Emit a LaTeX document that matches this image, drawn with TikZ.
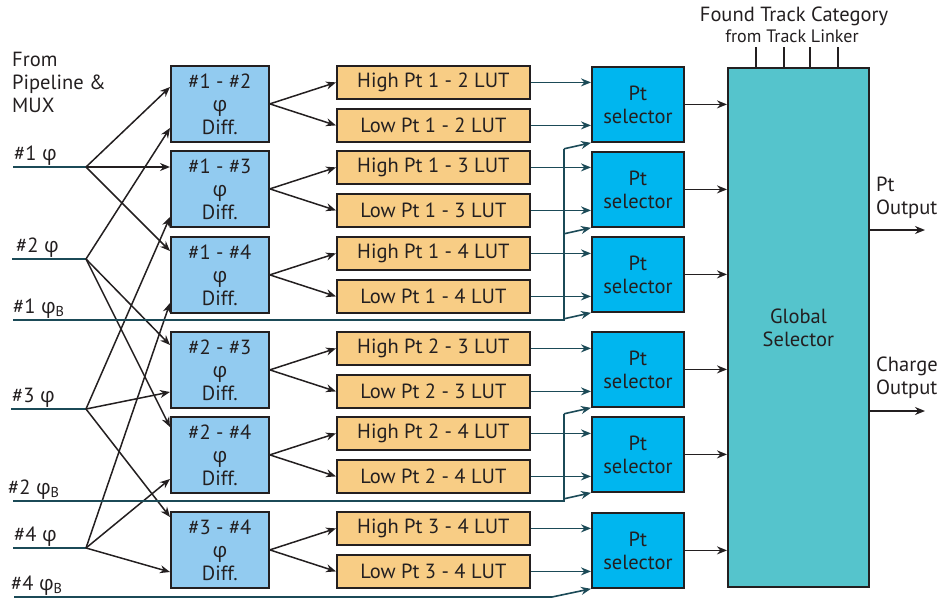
\documentclass[tikz,border=0pt]{standalone}
\usepackage{fontspec}
\setmainfont{PT Sans}
\newfontfamily\greekfont{Open Sans}
\usetikzlibrary{arrows.meta,calc,positioning}
\definecolor{ink}{HTML}{231F20}
\definecolor{wire}{HTML}{1B4A57}
\definecolor{diffbg}{HTML}{92CBF0}
\definecolor{lutbg}{HTML}{F8CD85}
\definecolor{selbg}{HTML}{00B6EF}
\definecolor{globbg}{HTML}{55C4CC}
\newcommand{\ph}{{\greekfont φ}}
\newcommand{\phb}{\ph\textsubscript{B}}

\begin{document}
\begin{tikzpicture}[
  x=1pt,y=-1pt,
  font=\fontsize{20.5}{23}\selectfont, text=ink,
  blk/.style={draw=ink,line width=1.8pt,anchor=north west,inner sep=0pt,align=center},
  diff/.style={blk,fill=diffbg,minimum width=98pt,minimum height=76pt},
  lut/.style={blk,fill=lutbg,minimum width=193pt,minimum height=33pt},
  sel/.style={blk,fill=selbg,minimum width=92pt,minimum height=75pt},
  fan/.style={-{Stealth[length=10pt,width=8pt]},draw=ink,line width=1.5pt},
  flow/.style={-{Stealth[length=10pt,width=8pt]},draw=wire,line width=1.6pt},
  inwire/.style={draw=wire,line width=1.8pt},
  inlab/.style={anchor=south west,inner sep=1pt}
]
\useasboundingbox (0,0) rectangle (943,602);

\node[anchor=north west,align=left,inner sep=0pt] (src) at (12,52) {From\\Pipeline \&\\MUX};

% phi difference units
\node[diff] (d12) at (170,65) {\#1 - \#2\\\ph\\Diff.};
\node[diff] (d13) at (170,150) {\#1 - \#3\\\ph\\Diff.};
\node[diff] (d14) at (170,236) {\#1 - \#4\\\ph\\Diff.};
\node[diff] (d23) at (170,331) {\#2 - \#3\\\ph\\Diff.};
\node[diff] (d24) at (170,416) {\#2 - \#4\\\ph\\Diff.};
\node[diff] (d34) at (170,511) {\#3 - \#4\\\ph\\Diff.};

% look-up tables
\node[lut] (h12) at (336,65) {High Pt 1 - 2 LUT};
\node[lut] (l12) at (336,108) {Low Pt 1 - 2 LUT};
\node[lut] (h13) at (336,150) {High Pt 1 - 3 LUT};
\node[lut] (l13) at (336,193) {Low Pt 1 - 3 LUT};
\node[lut] (h14) at (336,236) {High Pt 1 - 4 LUT};
\node[lut] (l14) at (336,279) {Low Pt 1 - 4 LUT};
\node[lut] (h23) at (336,331) {High Pt 2 - 3 LUT};
\node[lut] (l23) at (336,374) {Low Pt 2 - 3 LUT};
\node[lut] (h24) at (336,416) {High Pt 2 - 4 LUT};
\node[lut] (l24) at (336,459) {Low Pt 2 - 4 LUT};
\node[lut] (h34) at (336,511) {High Pt 3 - 4 LUT};
\node[lut] (l34) at (336,554) {Low Pt 3 - 4 LUT};

% Pt selectors
\node[sel] (s12) at (591,66) {Pt\\selector};
\node[sel] (s13) at (591,151) {Pt\\selector};
\node[sel] (s14) at (591,236) {Pt\\selector};
\node[sel] (s23) at (591,331) {Pt\\selector};
\node[sel] (s24) at (591,416) {Pt\\selector};
\node[sel] (s34) at (591,512) {Pt\\selector};

\node[blk,fill=globbg,minimum width=141pt,minimum height=519pt] (glob) at (727,67) {Global\\Selector};

\foreach \p in {12,13,14,23,24,34} {
  \draw[fan] (d\p.east) -- (h\p.west);
  \draw[fan] (d\p.east) -- (l\p.west);
  \draw[flow] (h\p.east) -- (h\p.east -| s\p.west);
  \draw[flow] (l\p.east) -- (l\p.east -| s\p.west);
  \draw[flow,draw=ink] (s\p.east) -- (s\p.east -| glob.west);
}

% phi inputs
\coordinate (in1) at (13,167); \coordinate (fan1) at (86,167);
\coordinate (in2) at (12,259); \coordinate (fan2) at (86,259);
\coordinate (in3) at (11,409); \coordinate (fan3) at (86,409);
\coordinate (in4) at (13,548); \coordinate (fan4) at (86,548);
\coordinate (bin1) at (13,320);
\coordinate (bin2) at (13,501);
\coordinate (bin4) at (14,597);

\node[inlab] (lab1) at (in1) {\#1 \ph};
\node[inlab] (lab2) at ([xshift=3pt]in2) {\#2 \ph};
\node[inlab] (lab3) at (in3) {\#3 \ph};
\node[inlab] (lab4) at (in4) {\#4 \ph};
\node[inlab] (blab1) at ([xshift=-1pt]bin1) {\#1 \phb};
\node[inlab] (blab2) at ([xshift=-6pt]bin2) {\#2 \phb};
\node[inlab] (blab4) at ([xshift=-4pt]bin4) {\#4 \phb};

\draw[inwire] (in1) -- (fan1);
\draw[inwire] (in2) -- (fan2);
\draw[inwire] (in3) -- (fan3);
\draw[inwire] (in4) -- (fan4);

\draw[fan] (fan1) -- ([yshift=-22pt]d12.north west);
\draw[fan] (fan1) -- ([yshift=-17pt]d13.north west);
\draw[fan] (fan1) -- ([yshift=-15pt]d14.north west);
\draw[fan] (fan2) -- ([yshift=-63pt]d12.north west);
\draw[fan] (fan2) -- ([yshift=-14pt]d23.north west);
\draw[fan] (fan2) -- ([yshift=-11pt]d24.north west);
\draw[fan] (fan3) -- ([yshift=-67pt]d13.north west);
\draw[fan] (fan3) -- ([yshift=-61pt]d23.north west);
\draw[fan] (fan3) -- ([yshift=-6pt]d34.north west);
\draw[fan] (fan4) -- ([yshift=-67pt]d14.north west);
\draw[fan] (fan4) -- ([yshift=-63pt]d24.north west);
\draw[fan] (fan4) -- ([yshift=-61pt]d34.north west);

% phi_B buses into the selectors
\draw[inwire] (bin1) -- ([xshift=-27pt]bin1 -| s14.west) -- ([shift={(-27pt,-6pt)}]s12.south west);
\foreach \s in {s12,s13,s14}
  \draw[flow] ([shift={(-27pt,-6pt)}]\s.south west) -- (\s.south west);
\draw[inwire] (bin2) -- ([xshift=-27pt]bin2 -| s24.west) -- ([shift={(-27pt,-6pt)}]s23.south west);
\foreach \s in {s23,s24}
  \draw[flow] ([shift={(-27pt,-6pt)}]\s.south west) -- (\s.south west);
\draw[flow] (bin4) -- ([xshift=-39pt]bin4 -| s34.west) -- (s34.south west);

% track category inputs
\node[anchor=base] (cat) at (794,22) {Found Track Category};
\node[anchor=base,font=\fontsize{18}{20}\selectfont] (linker) at (792,43) {from Track Linker};
\foreach \dx in {29,57,83,111}
  \draw[draw=ink,line width=1.5pt] ([xshift=\dx pt]glob.north west) -- ++(0,-20);

% outputs
\coordinate (ptend) at (925,230);
\coordinate (chend) at (925,411);
\draw[flow,draw=ink] (glob.east |- ptend) -- (ptend);
\draw[flow,draw=ink] (glob.east |- chend) -- (chend);
\node[anchor=north west,align=left,inner sep=0pt] (ptlab) at (876,177) {Pt\\Output};
\node[anchor=north west,align=left,inner sep=0pt] (chlab) at (876,357) {Charge\\Output};

\end{tikzpicture}
\end{document}
